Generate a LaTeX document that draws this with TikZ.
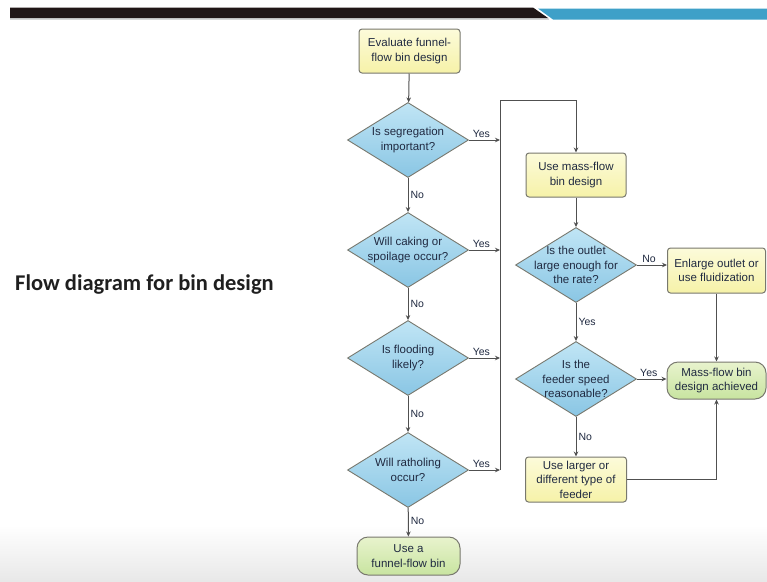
\documentclass[tikz,border=0pt]{standalone}
\usepackage{fontspec}
\setmainfont{Liberation Sans}
\newfontfamily\titlefont{Carlito}
\usetikzlibrary{shapes.geometric,arrows.meta}

\definecolor{txt}{RGB}{32,42,65}
\definecolor{edgec}{RGB}{120,120,110}
\definecolor{lin}{RGB}{80,80,80}
\definecolor{ylwA}{RGB}{252,251,218}
\definecolor{ylwB}{RGB}{246,242,168}
\definecolor{bluA}{RGB}{192,229,245}
\definecolor{bluB}{RGB}{138,198,228}
\definecolor{grnA}{RGB}{232,243,205}
\definecolor{grnB}{RGB}{200,228,160}
\definecolor{barblue}{RGB}{62,160,200}
\definecolor{barblack}{RGB}{32,22,22}

\begin{document}
\begin{tikzpicture}[x=1pt,y=-1pt,
 every node/.style={font=\fontsize{11.5}{14.5}\selectfont, text=txt},
 procbox/.style={draw=edgec, line width=1pt, rounded corners=3pt, top color=ylwA, bottom color=ylwB, align=center, inner sep=0pt},
 endbox/.style={draw=edgec, line width=1pt, rounded corners=11pt, top color=grnA, bottom color=grnB, align=center, inner sep=0pt},
 decbox/.style={diamond, draw=edgec, line width=0.9pt, top color=bluA, bottom color=bluB, minimum width=121pt, minimum height=75pt, inner sep=0pt},
 dectext/.style={align=center, inner sep=0pt, text=txt, font=\fontsize{11.5}{14.5}\selectfont},
 conn/.style={draw=lin, line width=1pt, -{Stealth[length=5pt,width=4.5pt]}},
 lbl/.style={font=\fontsize{10.5}{12}\selectfont, text=txt, inner sep=2pt}
]
\useasboundingbox (0,0) rectangle (767,581);
\fill[white] (0,0) rectangle (767,581);
\shade[top color=white, bottom color=black!9] (0,525) rectangle (767,581);

% top bar
\fill[barblack] (10,7.5) -- (533,7.5) -- (548,18) -- (10,18) -- cycle;
\fill[black!25] (10,18) -- (548,18) -- (549,19.5) -- (10,19.5) -- cycle;
\fill[barblue] (538,8.5) -- (767,8.5) -- (767,19.5) -- (553,19.5) -- cycle;

% title
\node[font=\titlefont\bfseries\fontsize{22.5}{27}\selectfont, text=black!88, anchor=base west, inner sep=0pt] (title) at (15,290) {Flow diagram for bin design};

% left column
\node[procbox, minimum width=101pt, minimum height=44pt] (eval) at (409.5,51) {Evaluate funnel-\\flow bin design};
\node[decbox, label={[dectext]center:{Is segregation\\important?}}] (d1) at (408,140) {};
\node[decbox, label={[dectext]center:{Will caking or\\spoilage occur?}}] (d2) at (408,250) {};
\node[decbox, label={[dectext]center:{Is flooding\\likely?}}] (d3) at (408,358) {};
\node[decbox, label={[dectext]center:{Will ratholing\\occur?}}] (d4) at (408,470) {};
\node[endbox, minimum width=103pt, minimum height=38pt] (funnel) at (408.5,556) {Use a\\funnel-flow bin};

% right column
\node[procbox, minimum width=100pt, minimum height=44pt] (mass) at (576,175) {Use mass-flow\\bin design};
\node[decbox, label={[dectext]center:{Is the outlet\\large enough for\\the rate?}}] (d5) at (576,265) {};
\node[procbox, minimum width=98pt, minimum height=45pt] (enl) at (716.5,270.5) {Enlarge outlet or\\use fluidization};
\node[decbox, label={[dectext]center:{Is the\\feeder speed\\reasonable?}}] (d6) at (576,379) {};
\node[endbox, minimum width=99pt, minimum height=37pt] (ach) at (716.5,380.5) {Mass-flow bin\\design achieved};
\node[procbox, minimum width=101pt, minimum height=45pt] (larger) at (576,479.5) {Use larger or\\different type of\\feeder};

% bus coordinates
\coordinate (btop) at (500,100);
\coordinate (b1) at (500,140);
\coordinate (b2) at (500,250);
\coordinate (b3) at (500,358);
\coordinate (b4) at (500,470);

% connectors
\draw[conn] (eval) -- (d1);
\draw[conn] (d1) -- node[lbl, right, pos=0.5]{No} (d2);
\draw[conn] (d2) -- node[lbl, right, pos=0.5]{No} (d3);
\draw[conn] (d3) -- node[lbl, right, pos=0.5]{No} (d4);
\draw[conn] (d4) -- node[lbl, right, pos=0.45]{No} (funnel);

\draw[conn] (d1.east) -- node[lbl, above, pos=0.4]{Yes} (b1);
\draw[conn] (d2.east) -- node[lbl, above, pos=0.4]{Yes} (b2);
\draw[conn] (d3.east) -- node[lbl, above, pos=0.4]{Yes} (b3);
\draw[conn] (d4.east) -- node[lbl, above, pos=0.4]{Yes} (b4);
\draw[conn] (b4) -- (btop) -| (mass.north);

\draw[conn] (mass) -- (d5);
\draw[conn] (d5.east) -- node[lbl, above, pos=0.4]{No} (d5.east -| enl.west);
\draw[conn] (d5) -- node[lbl, right, pos=0.5]{Yes} (d6);
\draw[conn] (d6.east) -- node[lbl, above, pos=0.4]{Yes} (d6.east -| ach.west);
\draw[conn] (d6) -- node[lbl, right, pos=0.5]{No} (larger);
\draw[conn] (enl) -- (ach);
\draw[conn] (larger.east) -| (ach.south);
\end{tikzpicture}
\end{document}
